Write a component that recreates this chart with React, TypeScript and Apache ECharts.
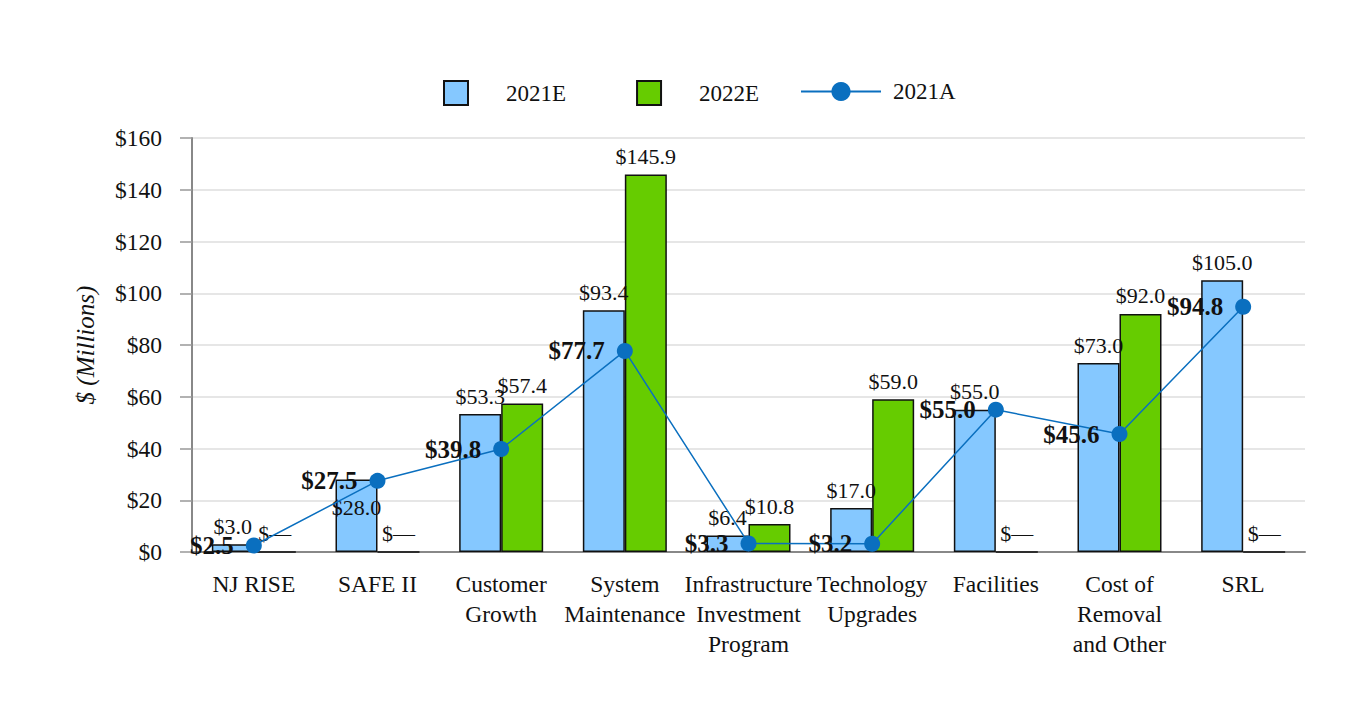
import React, { useEffect, useRef } from "react";
import * as echarts from "echarts";

const categories = [
  "NJ RISE",
  "SAFE II",
  "Customer\nGrowth",
  "System\nMaintenance",
  "Infrastructure\nInvestment\nProgram",
  "Technology\nUpgrades",
  "Facilities",
  "Cost of\nRemoval\nand Other",
  "SRL",
];
const est2021 = [3.0, 28.0, 53.3, 93.4, 6.4, 17.0, 55.0, 73.0, 105.0];
const est2022 = [0, 0, 57.4, 145.9, 10.8, 59.0, 0, 92.0, 0];
const act2021 = [2.5, 27.5, 39.8, 77.7, 3.3, 3.2, 55.0, 45.6, 94.8];
const yTicks = [0, 20, 40, 60, 80, 100, 120, 140, 160];

const FONT = "'Liberation Serif', 'Times New Roman', serif";
const BLUE = "#85C8FF";
const GREEN = "#66CC00";
const LINE = "#0A6FBF";

const fmt = (v: number) => (v === 0 ? "$\u2014" : "$" + v.toFixed(1));

export default function App() {
  const ref = useRef<HTMLDivElement>(null);
  useEffect(() => {
    if (!ref.current) return;
    const chart = echarts.init(ref.current, null, { renderer: "svg" });
    const barLabel = {
      show: true,
      position: "top",
      distance: 7,
      fontFamily: FONT,
      fontSize: 22,
      color: "#111",
      formatter: (p: any) => fmt(p.value),
    };
    chart.setOption({
      animation: false,
      backgroundColor: "#fff",
      textStyle: { fontFamily: FONT },
      legend: [
        {
          data: ["2021E", "2022E"],
          icon: "rect",
          left: 438,
          top: 75,
          itemWidth: 24,
          itemHeight: 24,
          itemGap: 70,
          textStyle: { fontFamily: FONT, fontSize: 23, color: "#111", padding: [0, 0, 0, 33] },
        },
        {
          data: ["2021A"],
          left: 795,
          top: 75,
          itemWidth: 80,
          itemHeight: 24,
          textStyle: { fontFamily: FONT, fontSize: 23, color: "#111", padding: [0, 0, 0, 7] },
        },
      ],
      grid: { left: 192, right: 63, top: 138, bottom: 168 },
      xAxis: {
        type: "category",
        data: categories,
        axisLine: { lineStyle: { color: "#888", width: 2 } },
        axisTick: { alignWithLabel: true, length: 10, lineStyle: { color: "#aaa", width: 1.5 } },
        axisLabel: {
          interval: 0,
          margin: 17,
          fontFamily: FONT,
          fontSize: 23.5,
          color: "#111",
          lineHeight: 30,
        },
      },
      yAxis: {
        type: "value",
        min: yTicks[0],
        max: yTicks[yTicks.length - 1],
        interval: 20,
        name: "$ (Millions)",
        nameLocation: "middle",
        nameGap: 94,
        nameTextStyle: { fontFamily: FONT, fontSize: 25, fontStyle: "italic", color: "#111" },
        axisLine: { show: true, lineStyle: { color: "#888", width: 2 } },
        axisTick: { show: true, length: 12, lineStyle: { color: "#999", width: 1.5 } },
        splitLine: { lineStyle: { color: "#e6e6e6", width: 2 } },
        axisLabel: {
          margin: 30,
          fontFamily: FONT,
          fontSize: 23.5,
          color: "#111",
          formatter: (v: number) => "$" + v,
        },
      },
      series: [
        {
          name: "2021E",
          type: "bar",
          barWidth: 42,
          barGap: "0%",
          data: est2021.map((v, i) =>
            i === 1
              ? { value: v, label: { position: "insideTop", distance: 5, offset: [0, 12] } }
              : v
          ),
          itemStyle: { color: BLUE, borderColor: "#111", borderWidth: 1.5 },
          label: barLabel,
        },
        {
          name: "2022E",
          type: "bar",
          barWidth: 42,
          barGap: "0%",
          data: est2022,
          itemStyle: { color: GREEN, borderColor: "#111", borderWidth: 1.5 },
          label: barLabel,
        },
        {
          name: "2021A",
          type: "line",
          data: act2021,
          symbol: "circle",
          symbolSize: 16,
          lineStyle: { color: LINE, width: 1.5 },
          itemStyle: { color: LINE },
          z: 5,
          label: {
            show: true,
            position: "left",
            distance: 12,
            fontFamily: FONT,
            fontSize: 25,
            fontWeight: "bold",
            color: "#111",
            formatter: (p: any) => fmt(p.value),
          },
        },
      ],
    });
    return () => chart.dispose();
  }, []);
  return (
    <div
      ref={ref}
      style={{ position: "fixed", left: 0, top: 0, width: 1368, height: 720 }}
    />
  );
}
